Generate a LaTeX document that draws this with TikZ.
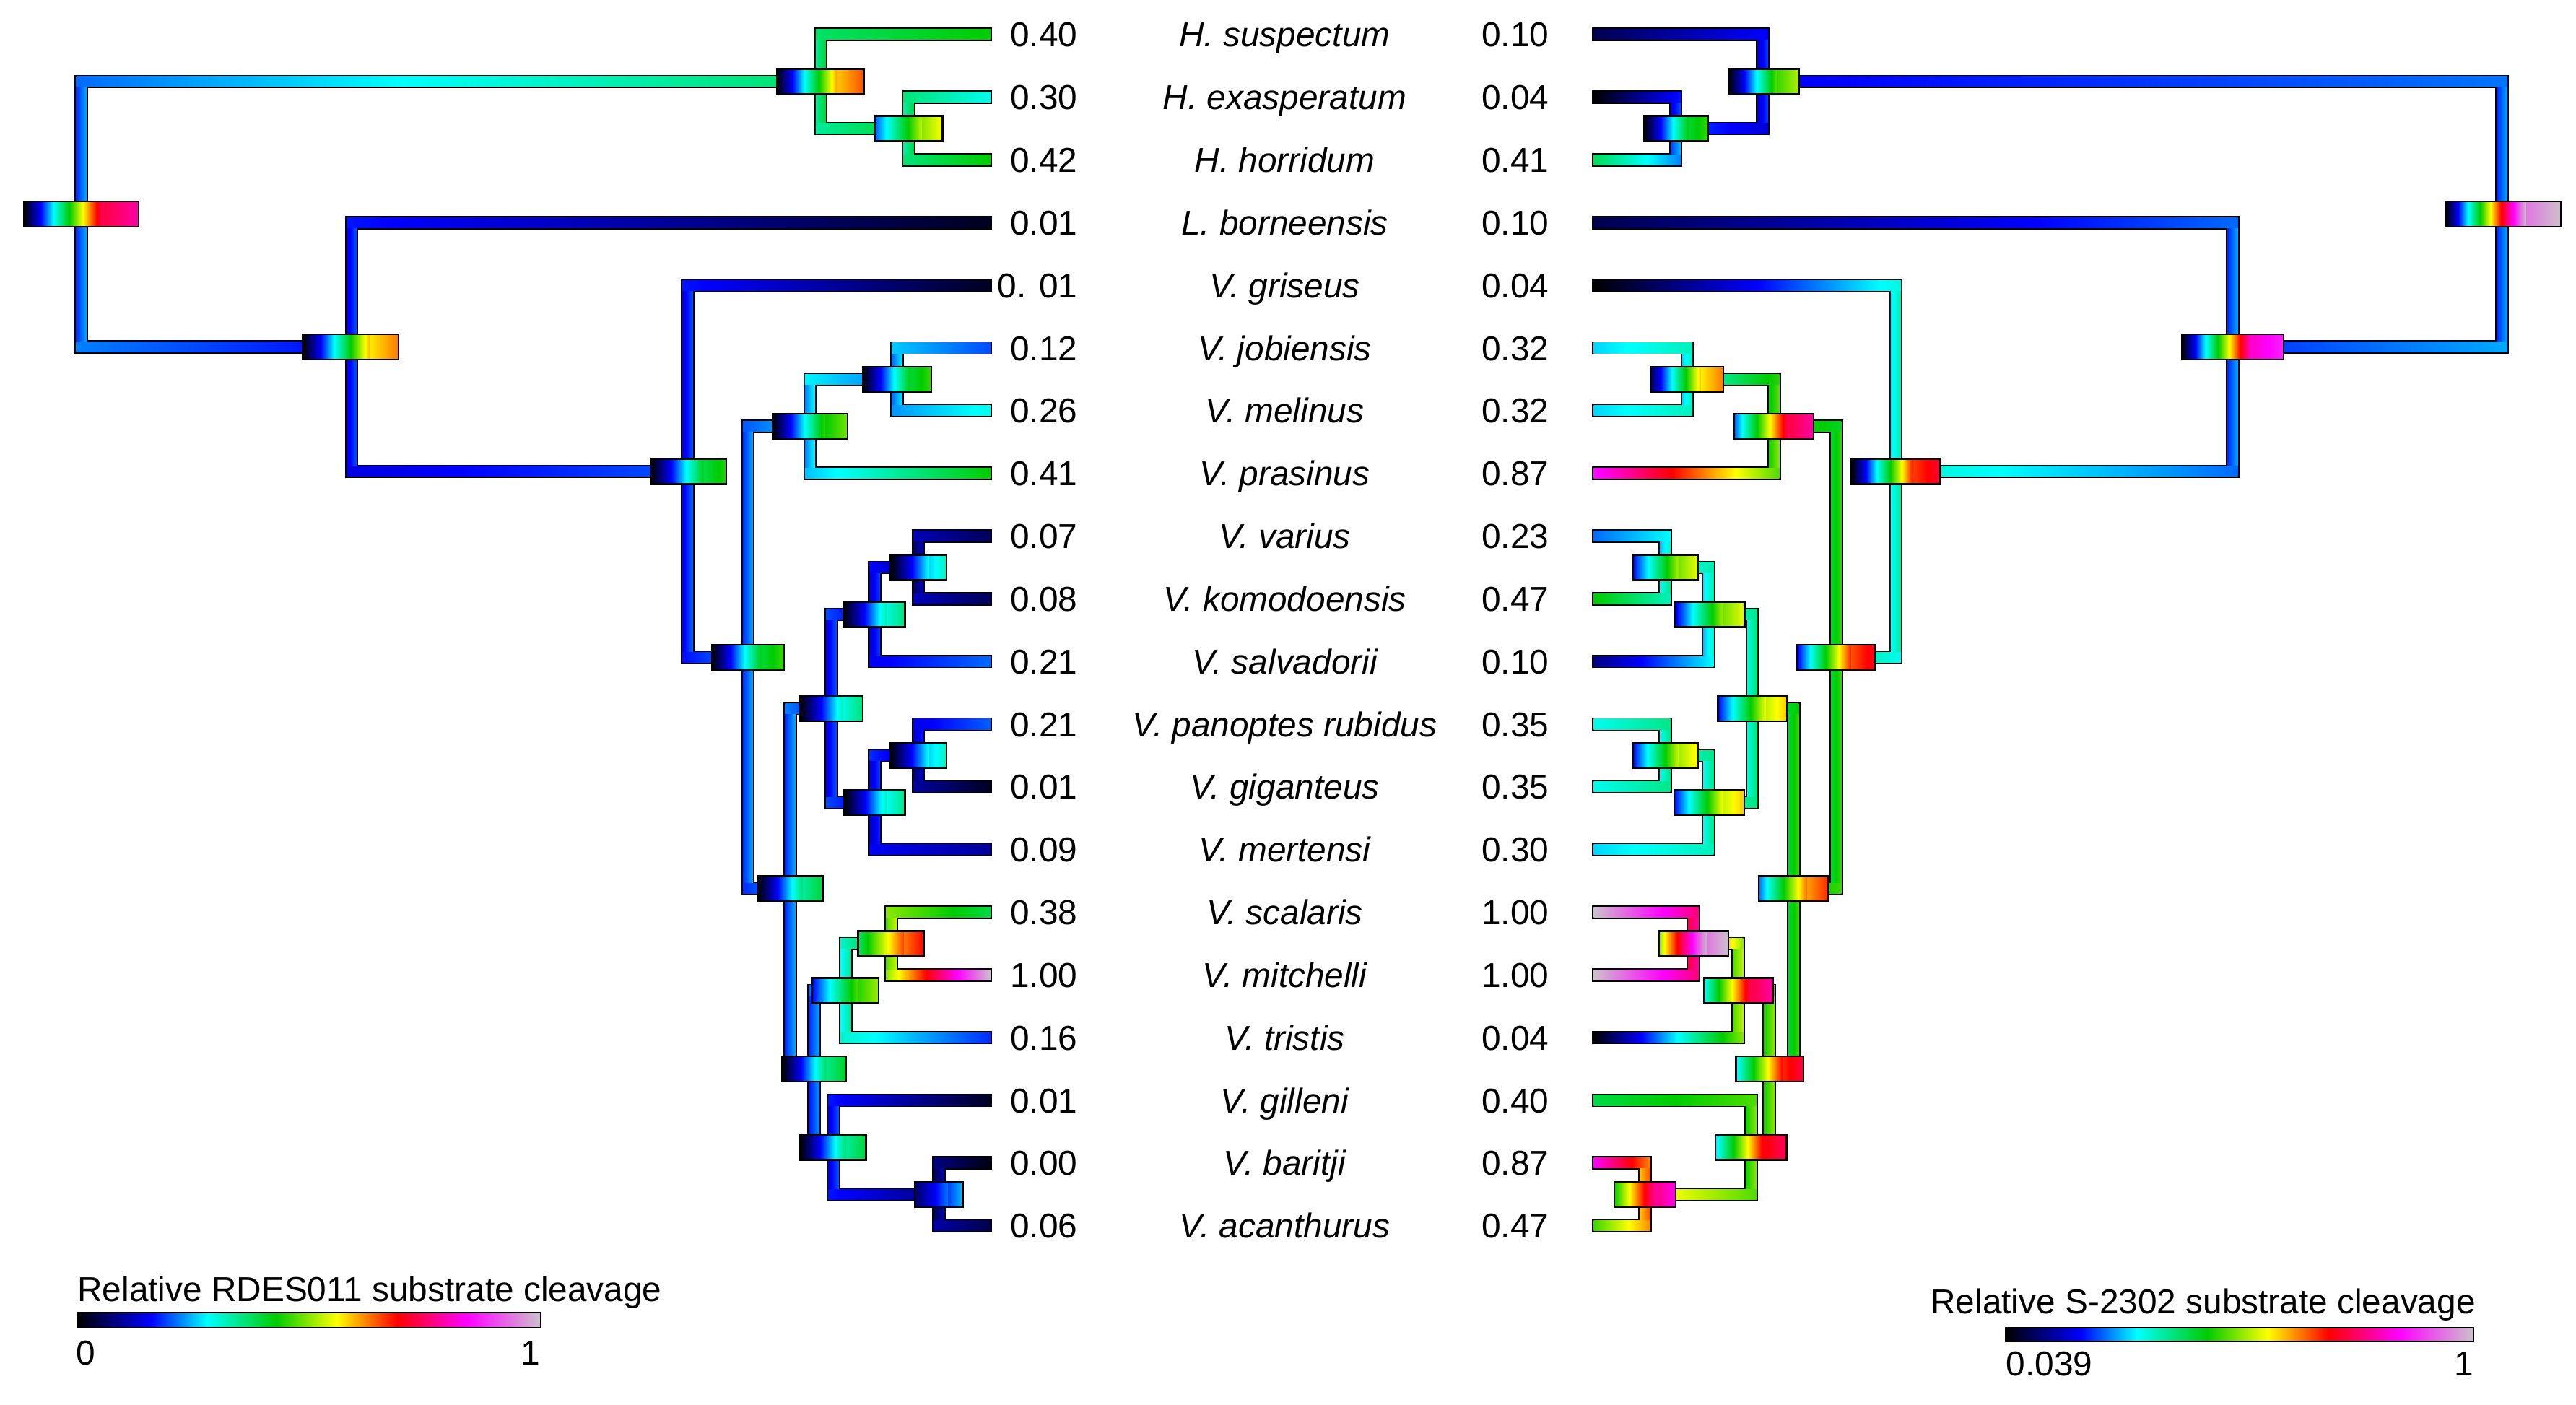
\documentclass[tikz,border=0pt]{standalone}
\usepackage{fontspec}
\setmainfont{Liberation Sans}
\definecolor{cmgreen}{rgb}{0,0.8,0}
\definecolor{cmgray}{rgb}{0.8,0.76,0.8}
\pgfdeclarehorizontalshading{cmap}{100bp}{color(0bp)=(black); color(25bp)=(black); color(33bp)=(blue); color(39bp)=(cyan); color(46.5bp)=(cmgreen); color(53bp)=(yellow); color(59.5bp)=(red); color(67bp)=(magenta); color(75bp)=(cmgray); color(100bp)=(cmgray)}
\pgfdeclarehorizontalshading{cmaprev}{100bp}{color(0bp)=(cmgray); color(25bp)=(cmgray); color(33bp)=(magenta); color(40.5bp)=(red); color(47bp)=(yellow); color(53.5bp)=(cmgreen); color(61bp)=(cyan); color(67bp)=(blue); color(75bp)=(black); color(100bp)=(black)}

\tikzset{
  brout/.style={line width=8.2pt, line join=miter, black},
  boxline/.style={line width=1pt, black},
  taxon/.style={font=\fontsize{21}{25}\selectfont\itshape, anchor=base, inner sep=0pt},
  valtxt/.style={font=\fontsize{21}{25}\selectfont, anchor=base east, inner sep=0pt},
  legtxt/.style={font=\fontsize{21}{25}\selectfont, inner sep=0pt}
}
\def\brw{3.1}

% colour strip: x from #1 to #2, y from #3 to #4 (canvas pt), scale value #5 -> #6
\newcommand\cseg[6]{%
  \pgfmathsetmacro\sgd{#6-#5}%
  \pgfmathsetmacro\sgm{min(max((#5+#6)/2,0.03),0.97)}%
  \pgfmathtruncatemacro\sgsmall{abs(\sgd)<0.06}%
  \ifnum\sgsmall=1
    \pgfmathtruncatemacro\sgneg{\sgd<0}%
    \ifnum\sgneg=1
      \pgfmathsetmacro\sgl{\sgm+0.03}\pgfmathsetmacro\sgr{\sgm-0.03}%
    \else
      \pgfmathsetmacro\sgl{\sgm-0.03}\pgfmathsetmacro\sgr{\sgm+0.03}%
    \fi
  \else
    \pgfmathsetmacro\sgl{#5}\pgfmathsetmacro\sgr{#6}%
  \fi
  \pgfmathsetmacro\sgw{(#2-#1)/abs(\sgr-\sgl)}%
  \pgfmathtruncatemacro\sgneg{\sgr<\sgl}%
  \ifnum\sgneg=1
    \pgfmathsetmacro\sgx{#1-(1-\sgl)*\sgw}\def\sgsh{cmaprev}%
  \else
    \pgfmathsetmacro\sgx{#1-\sgl*\sgw}\def\sgsh{cmap}%
  \fi
  \pgfmathsetmacro\sgxe{\sgx+\sgw}%
  \begin{scope}
    \clip (#1pt,#3pt) rectangle (#2pt,#4pt);
    \shade[shading=\sgsh] (\sgx pt,#3pt) rectangle (\sgxe pt,#4pt);
  \end{scope}}

% branch body from parent #1 to child #2, values #3 -> #4
\newcommand\brfill[4]{%
  \pgfpointanchor{#1}{center}\pgfgetlastxy{\bpx}{\bpy}%
  \pgfpointanchor{#2}{center}\pgfgetlastxy{\bcx}{\bcy}%
  \pgfmathsetmacro\bPx{\bpx}\pgfmathsetmacro\bPy{\bpy}%
  \pgfmathsetmacro\bCx{\bcx}\pgfmathsetmacro\bCy{\bcy}%
  \pgfmathsetmacro\bva{\bPx-\brw}\pgfmathsetmacro\bvb{\bPx+\brw}%
  \cseg{\bva}{\bvb}{\bPy}{\bCy}{#3}{#3}%
  \pgfmathsetmacro\bya{\bCy-\brw}\pgfmathsetmacro\byb{\bCy+\brw}%
  \pgfmathtruncatemacro\bleft{\bCx<\bPx}%
  \ifnum\bleft=1
    \pgfmathsetmacro\bxa{\bCx+1}\pgfmathsetmacro\bxb{\bPx+\brw}%
    \cseg{\bxa}{\bxb}{\bya}{\byb}{#4}{#3}%
  \else
    \pgfmathsetmacro\bxa{\bPx-\brw}\pgfmathsetmacro\bxb{\bCx-1}%
    \cseg{\bxa}{\bxb}{\bya}{\byb}{#3}{#4}%
  \fi}

% node box at #1 from x=#2 to #3, range #4 -> #5
\newcommand\nbox[5]{%
  \pgfpointanchor{#1}{center}\pgfgetlastxy{\nbx}{\nby}%
  \pgfmathsetmacro\nbya{\nby-7.7}\pgfmathsetmacro\nbyb{\nby+7.7}%
  \pgfmathsetmacro\nbs{#2+0.7*(#3-#2)}%
  \cseg{#2}{\nbs}{\nbya}{\nbyb}{#4}{#5}%
  \cseg{\nbs}{#3}{\nbya}{\nbyb}{#5}{#5}%
  \draw[boxline] (#2pt,\nbya pt) rectangle (#3pt,\nbyb pt);}

\newcommand\leftbr{lR/lH1/0.21/0.37, lR/lA/0.21/0.17,
  lH1/lt0/0.37/0.43, lH1/lH2/0.37/0.37, lH2/lt1/0.36/0.29, lH2/lt2/0.36/0.43,
  lA/lt3/0.17/0.02, lA/lB/0.17/0.17, lB/lt4/0.17/0.02, lB/lC/0.18/0.21,
  lC/lD/0.21/0.25, lC/lE/0.21/0.21, lD/lD2/0.25/0.24, lD/lt7/0.25/0.43,
  lD2/lt5/0.24/0.21, lD2/lt6/0.24/0.28, lE/lF/0.21/0.17, lE/lG/0.21/0.21,
  lF/lV2/0.17/0.16, lF/lP2/0.17/0.16, lV2/lV1/0.16/0.09, lV2/lt10/0.16/0.2,
  lV1/lt8/0.09/0.08, lV1/lt9/0.09/0.08, lP2/lP1/0.16/0.14, lP2/lt13/0.15/0.1,
  lP1/lt11/0.15/0.2, lP1/lt12/0.1/0.02, lG/lS2/0.21/0.31, lG/lK/0.2/0.17,
  lS2/lS1/0.31/0.45, lS2/lt16/0.31/0.18, lS1/lt14/0.5/0.39, lS1/lt15/0.5/1.0,
  lK/lt17/0.17/0.02, lK/lK2/0.17/0.08, lK2/lt18/0.08/0.01, lK2/lt19/0.08/0.07}

\newcommand\rightbr{rR/rH1/0.21/0.16, rR/rA/0.21/0.21,
  rH1/rt0/0.16/0.05, rH1/rH2/0.16/0.17, rH2/rt1/0.17/0.0, rH2/rt2/0.22/0.38,
  rA/rt3/0.21/0.05, rA/rB/0.21/0.31, rB/rt4/0.3/0.0, rB/rC/0.31/0.33,
  rC/rD/0.43/0.45, rC/rE/0.43/0.43, rD/rD2/0.45/0.29, rD/rt7/0.47/0.85,
  rD2/rt5/0.29/0.29, rD2/rt6/0.29/0.29, rE/rF/0.43/0.33, rE/rG/0.43/0.47,
  rF/rV2/0.33/0.3, rF/rP2/0.33/0.32, rV2/rV1/0.3/0.3, rV2/rt10/0.28/0.08,
  rV1/rt8/0.28/0.21, rV1/rt9/0.32/0.43, rP2/rP1/0.32/0.32, rP2/rt13/0.32/0.26,
  rP1/rt11/0.32/0.32, rP1/rt12/0.32/0.32, rG/rS2/0.47/0.5, rG/rK/0.47/0.47,
  rS2/rS1/0.5/0.76, rS2/rt16/0.5/0.0, rS1/rt14/0.76/1.0, rS1/rt15/0.76/1.0,
  rK/rt17/0.47/0.39, rK/rK2/0.47/0.58, rK2/rt18/0.62/0.84, rK2/rt19/0.62/0.46}

\newcommand\leftbox{lR/14.5/84.4/0/0.76, lH1/472.8/525.8/0/0.62,
  lH2/532.5/573.7/0.2/0.53, lA/184.4/242.5/0/0.6, lB/396.3/442.2/0/0.42,
  lD2/525/567/0/0.43, lD/470.1/516/0/0.46, lC/433.2/477.1/0/0.43,
  lV1/542/576/0/0.29, lV2/513.4/550.8/0/0.33, lF/487/525/0/0.33,
  lP1/541.7/576/0/0.29, lP2/513.9/550.8/0/0.32, lE/461.4/500.7/0/0.37,
  lS1/522.3/562.3/0.37/0.66, lS2/494.4/534.7/0.16/0.48, lG/476.1/515/0/0.38,
  lK/487.1/527.1/0/0.37, lK2/556.7/586/0.06/0.22}

\newcommand\rightbox{rR/1488.5/1558.8/0/1.0, rH1/1052/1095/0/0.49,
  rH2/1000.6/1039.6/0/0.43, rA/1328/1390/0/0.84, rB/1127/1181/0/0.69,
  rD2/1004.6/1049/0.05/0.6, rD/1055.5/1104/0.2/0.76, rC/1093.7/1141.3/0.15/0.68,
  rV1/994/1033.6/0.16/0.52, rV2/1019.3/1062/0.14/0.52, rF/1045.7/1087.8/0.16/0.56,
  rP1/994/1033.6/0.16/0.54, rP2/1019/1061.7/0.16/0.56, rE/1070.6/1112.7/0.21/0.64,
  rS1/1009.6/1052/0.5/1.0, rS2/1037/1079.4/0.28/0.76, rG/1056.7/1097.9/0.27/0.7,
  rK/1044/1087.4/0.26/0.72, rK2/982.6/1020/0.43/0.8}

\begin{document}
\begin{tikzpicture}[x=1pt,y=-1pt]
\useasboundingbox (0,0) rectangle (1568,855);

\foreach \nm/\lv/\rv [count=\i from 0] in {
  H. suspectum/0.40/0.10, H. exasperatum/0.30/0.04, H. horridum/0.42/0.41,
  L. borneensis/0.01/0.10, V. griseus/0. 01/0.04, V. jobiensis/0.12/0.32,
  V. melinus/0.26/0.32, V. prasinus/0.41/0.87, V. varius/0.07/0.23,
  V. komodoensis/0.08/0.47, V. salvadorii/0.21/0.10,
  V. panoptes rubidus/0.21/0.35, V. giganteus/0.01/0.35,
  V. mertensi/0.09/0.30, V. scalaris/0.38/1.00, V. mitchelli/1.00/1.00,
  V. tristis/0.16/0.04, V. gilleni/0.01/0.40, V. baritji/0.00/0.87,
  V. acanthurus/0.06/0.47}{
  \pgfmathsetmacro\ry{21+38.16*\i}
  \coordinate (lt\i) at (604,\ry);
  \coordinate (rt\i) at (969,\ry);
  \node[taxon] (sp\i) at (782,\ry+7.5) {\nm};
  \node[valtxt] (lv\i) at (656,\ry+7.5) {\lv};
  \node[valtxt] (rv\i) at (943,\ry+7.5) {\rv};
}

\coordinate (lR) at (49.5,130.41);
\coordinate (lH1) at (499.6,49.62);
\coordinate (lH2) at (553,78.24);
\coordinate (lA) at (214,211.2);
\coordinate (lB) at (418.7,286.92);
\coordinate (lC) at (455.2,400.2);
\coordinate (lD) at (493,259.5);
\coordinate (lD2) at (546,230.88);
\coordinate (lE) at (481,540.93);
\coordinate (lF) at (506,431.22);
\coordinate (lV2) at (532.5,373.98);
\coordinate (lV1) at (559,345.36);
\coordinate (lP2) at (532.5,488.46);
\coordinate (lP1) at (559,459.84);
\coordinate (lG) at (495.5,650.64);
\coordinate (lS2) at (514.7,602.94);
\coordinate (lS1) at (542.4,574.32);
\coordinate (lK) at (507.3,698.34);
\coordinate (lK2) at (571.4,726.96);

\coordinate (rR) at (1523,130.41);
\coordinate (rH1) at (1073,49.62);
\coordinate (rH2) at (1020,78.24);
\coordinate (rA) at (1359,211.2);
\coordinate (rB) at (1154,286.92);
\coordinate (rC) at (1117.8,400.2);
\coordinate (rD) at (1080,259.5);
\coordinate (rD2) at (1027,230.88);
\coordinate (rE) at (1091.8,540.93);
\coordinate (rF) at (1066.6,431.22);
\coordinate (rV2) at (1040,373.98);
\coordinate (rV1) at (1013.6,345.36);
\coordinate (rP2) at (1040,488.46);
\coordinate (rP1) at (1013.6,459.84);
\coordinate (rG) at (1077,650.64);
\coordinate (rS2) at (1058,602.94);
\coordinate (rS1) at (1030.8,574.32);
\coordinate (rK) at (1066,698.34);
\coordinate (rK2) at (1001.3,726.96);

\foreach \pn/\cn/\va/\vb in \leftbr {\draw[brout] (\pn) |- (\cn);}
\foreach \pn/\cn/\va/\vb in \rightbr {\draw[brout] (\pn) |- (\cn);}
\foreach \pn/\cn/\va/\vb in \leftbr {\brfill{\pn}{\cn}{\va}{\vb}}
\foreach \pn/\cn/\va/\vb in \rightbr {\brfill{\pn}{\cn}{\va}{\vb}}
\foreach \nd/\xa/\xb/\lo/\hi in \leftbox {\nbox{\nd}{\xa}{\xb}{\lo}{\hi}}
\foreach \nd/\xa/\xb/\lo/\hi in \rightbox {\nbox{\nd}{\xa}{\xb}{\lo}{\hi}}

\node[legtxt, anchor=base west] (legl) at (47,792) {Relative RDES011 substrate cleavage};
\cseg{47}{329}{-799}{-808}{0}{1}
\draw[boxline] (47,799) rectangle (329,808);
\node[legtxt, anchor=base west] (legl0) at (46,831) {0};
\node[legtxt, anchor=base east] (legl1) at (329,831) {1};

\node[legtxt, anchor=base east] (legr) at (1507,799.5) {Relative S-2302 substrate cleavage};
\cseg{1221}{1505.6}{-808}{-816.5}{0}{1}
\draw[boxline] (1221,808) rectangle (1505.6,816.5);
\node[legtxt, anchor=base west] (legr0) at (1221,837.5) {0.039};
\node[legtxt, anchor=base east] (legr1) at (1506,837.5) {1};
\end{tikzpicture}
\end{document}
